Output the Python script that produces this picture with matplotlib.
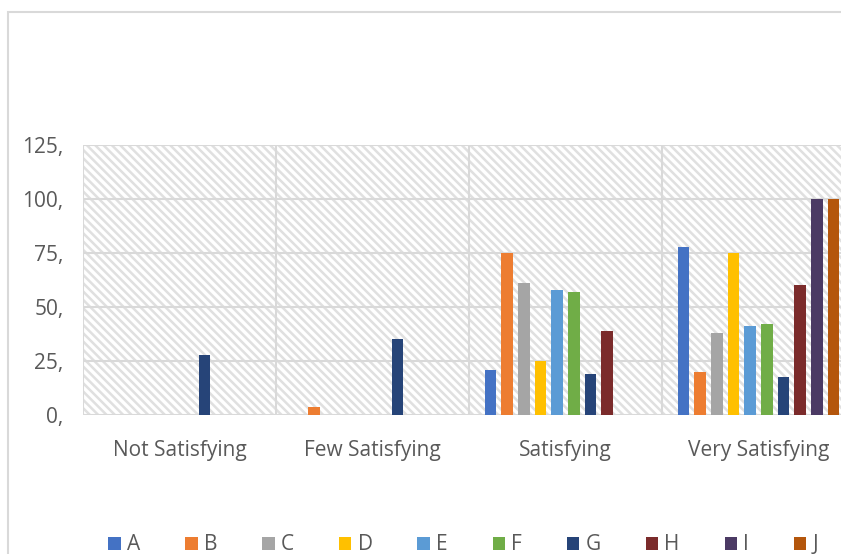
import matplotlib
matplotlib.use("Agg")
import matplotlib.pyplot as plt
import numpy as np
from matplotlib.patches import Patch, Rectangle

plt.rcParams['font.family'] = ['Open Sans', 'DejaVu Sans']
plt.rcParams['hatch.linewidth'] = 1.8

categories = ['Not Satisfying', 'Few Satisfying', 'Satisfying', 'Very Satisfying']
series = ['A', 'B', 'C', 'D', 'E', 'F', 'G', 'H', 'I', 'J']
values = {
    'A': [0, 0, 21, 78],
    'B': [0, 3.5, 75, 20],
    'C': [0, 0, 61, 38],
    'D': [0, 0, 25, 75],
    'E': [0, 0, 58, 41],
    'F': [0, 0, 57, 42],
    'G': [28, 35, 19, 17.5],
    'H': [0, 0, 39, 60],
    'I': [0, 0, 0, 100],
    'J': [0, 0, 0, 100],
}
colors = ['#4472C4', '#ED7D31', '#A5A5A5', '#FFC000', '#5B9BD5',
          '#70AD47', '#264478', '#7B2B2B', '#4B3A64', '#B4560C']
yticks = [0, 25, 50, 75, 100, 125]

grey = '#d9d9d9'
hatch_grey = '#e0e0e0'
text_col = '#595959'

fig = plt.figure(figsize=(8.41, 5.54), dpi=100)
# chart frame
fig.patches.append(Rectangle((8 / 841, -0.1), 1.2, 1 - 12 / 554 + 0.1,
                             transform=fig.transFigure, fill=False,
                             edgecolor=grey, linewidth=1.5))

ax = fig.add_axes([83 / 841, 1 - 415 / 554, 772 / 841, 270 / 554])
ax.set_facecolor('white')
# hatched plot area
ax.add_patch(Rectangle((0, 0), 1, 1, transform=ax.transAxes, facecolor='white',
                       edgecolor=hatch_grey, linewidth=0, hatch='\\\\\\\\', zorder=0))

x = np.arange(len(categories))
slot = 0.0865
width = 0.06
for i, (s, c) in enumerate(zip(series, colors)):
    ax.bar(x + (i - 4.5) * slot, values[s], width=width, color=c, zorder=3)

ax.set_xlim(-0.5, len(categories) - 0.5)
ax.set_ylim(0, 125)
ax.set_yticks(yticks)
ax.set_yticklabels([f'{v},' for v in yticks], fontsize=15, color=text_col)
ax.set_xticks(x)
ax.set_xticklabels(categories, fontsize=15, color=text_col)
ax.tick_params(length=0)
ax.tick_params(axis='y', pad=14)
ax.tick_params(axis='x', pad=18)

for v in yticks:
    ax.axhline(v, color=grey, linewidth=1.5, zorder=1)
for b in np.arange(-0.5, len(categories), 1.0):
    ax.axvline(b, color=grey, linewidth=1.5, zorder=1)
for sp in ax.spines.values():
    sp.set_visible(False)

handles = [Patch(facecolor=c, edgecolor='none') for c in colors]
leg = fig.legend(handles, series, ncol=10, loc='center', bbox_to_anchor=(0.551, 1 - 545 / 554),
                 frameon=False, fontsize=15, handlelength=0.6, handleheight=0.6,
                 handletextpad=0.3, columnspacing=2.15)
for t in leg.get_texts():
    t.set_color(text_col)

fig.savefig('out.png', dpi=100)
